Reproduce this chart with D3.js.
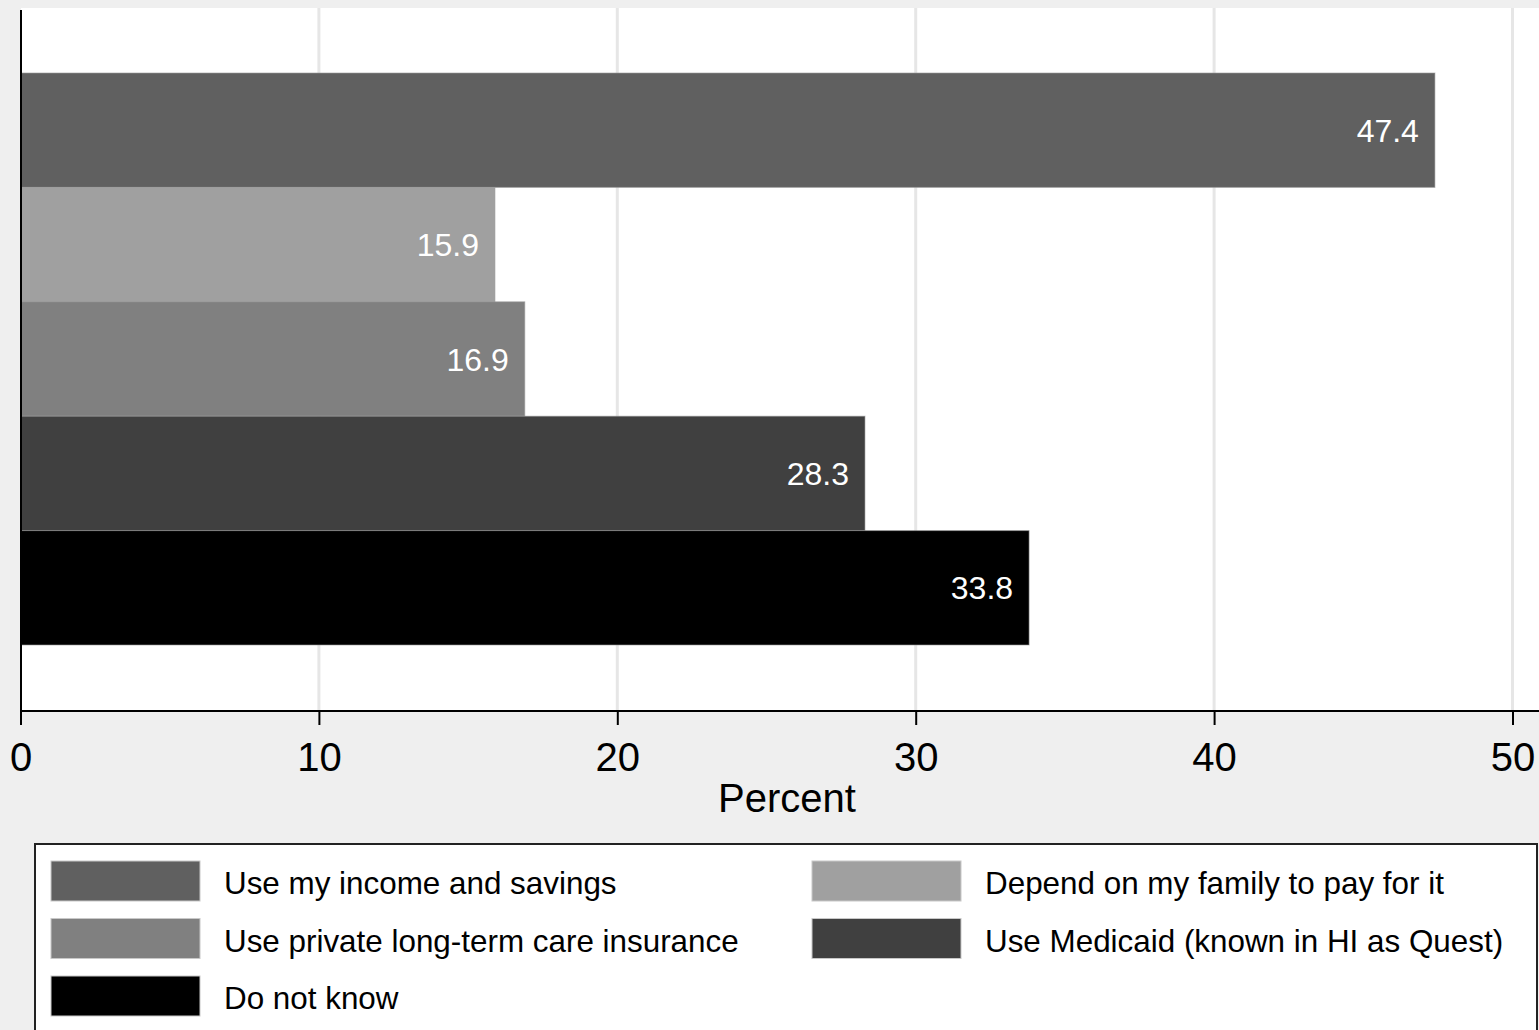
<!DOCTYPE html>
<html>
<head>
<meta charset="utf-8">
<script src="https://cdn.jsdelivr.net/npm/d3@7"></script>
<style>
  html, body { margin: 0; padding: 0; background: #efefef; overflow: hidden; }
  svg { display: block; font-family: "Liberation Sans", Arial, sans-serif; }
</style>
</head>
<body>
<svg id="chart" width="1539" height="1030"></svg>
<script>
// Responses: how people expect to pay for long-term care
const categories = [
  "Use my income and savings",
  "Depend on my family to pay for it",
  "Use private long-term care insurance",
  "Use Medicaid (known in HI as Quest)",
  "Do not know"
];
const percents = [47.4, 15.9, 16.9, 28.3, 33.8];
const fills = ["#606060", "#a0a0a0", "#808080", "#404040", "#000000"];
const xTicks = [0, 10, 20, 30, 40, 50];
const xTitle = "Percent";
// legend order: two columns, filled row by row
const legendOrder = [0, 1, 2, 3, 4];

const svg = d3.select("#chart");
const W = 1539, H = 1030;

const plot = { left: 21, top: 8, right: 1539, bottom: 711 };

const x = d3.scaleLinear().domain([0, 50]).range([20.5, 1512.5]);
const y = d3.scaleBand().domain(categories).range([73, 645]).padding(0);
const color = d3.scaleOrdinal().domain(categories).range(fills);

// plot region
svg.append("rect")
  .attr("x", plot.left).attr("y", plot.top)
  .attr("width", plot.right - plot.left).attr("height", plot.bottom - plot.top)
  .attr("fill", "#ffffff");

// vertical gridlines
svg.append("g")
  .selectAll("line")
  .data(xTicks.filter(d => d > 0))
  .join("line")
  .attr("x1", d => x(d)).attr("x2", d => x(d))
  .attr("y1", plot.top).attr("y2", plot.bottom)
  .attr("stroke", "#e6e6e6").attr("stroke-width", 3);

const data = categories.map((c, i) => ({ cat: c, value: percents[i] }));

// bars
svg.append("g")
  .selectAll("rect")
  .data(data)
  .join("rect")
  .attr("x", x(0))
  .attr("y", d => y(d.cat))
  .attr("width", d => x(d.value) - x(0))
  .attr("height", y.bandwidth())
  .attr("fill", d => color(d.cat))
  .attr("stroke", "#9a9a9a")
  .attr("stroke-opacity", 0.6)
  .attr("stroke-width", 1);

// value labels inside bar ends
svg.append("g")
  .selectAll("text")
  .data(data)
  .join("text")
  .attr("x", d => x(d.value) - 16)
  .attr("y", d => y(d.cat) + y.bandwidth() / 2)
  .attr("dy", "0.36em")
  .attr("text-anchor", "end")
  .attr("fill", "#ffffff")
  .attr("font-size", 32)
  .text(d => d.value.toFixed(1));

// x axis
const xAxis = svg.append("g")
  .attr("transform", `translate(0,${plot.bottom})`)
  .call(d3.axisBottom(x).tickValues(xTicks).tickSize(14).tickPadding(18).tickSizeOuter(0));
xAxis.select(".domain").remove();
xAxis.append("line")
  .attr("x1", plot.left - 1).attr("x2", W)
  .attr("stroke", "#000").attr("stroke-width", 2);
xAxis.selectAll(".tick line").attr("stroke", "#000").attr("stroke-width", 2);
xAxis.selectAll(".tick text")
  .attr("fill", "#000")
  .attr("font-size", 40)
  .attr("font-family", "Liberation Sans, Arial, sans-serif");

// left axis line
svg.append("line")
  .attr("x1", plot.left).attr("x2", plot.left)
  .attr("y1", plot.top + 2).attr("y2", plot.bottom)
  .attr("stroke", "#000").attr("stroke-width", 2);

// axis title
svg.append("text")
  .attr("x", 787).attr("y", 812)
  .attr("text-anchor", "middle")
  .attr("font-size", 40)
  .attr("fill", "#000")
  .text(xTitle);

// legend
const legend = svg.append("g");
legend.append("rect")
  .attr("x", 35).attr("y", 844)
  .attr("width", 1502).attr("height", 220)
  .attr("fill", "#ffffff")
  .attr("stroke", "#222").attr("stroke-width", 2);

const colX = [51, 812];
const rowY = [861, 918.5, 976];
const items = legend.selectAll("g.item")
  .data(legendOrder.map(i => categories[i]))
  .join("g")
  .attr("class", "item")
  .attr("transform", (d, i) => `translate(${colX[i % 2]},${rowY[Math.floor(i / 2)]})`);
items.append("rect")
  .attr("width", 149).attr("height", 40)
  .attr("fill", d => color(d))
  .attr("stroke", "#c8c8c8").attr("stroke-width", 1);
items.append("text")
  .attr("x", 173).attr("y", 33)
  .attr("font-size", 31.4)
  .attr("fill", "#000")
  .text(d => d);
</script>
</body>
</html>
